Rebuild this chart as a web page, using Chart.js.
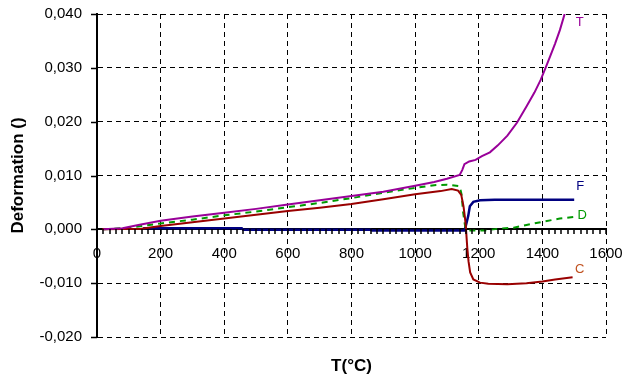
<!DOCTYPE html>
<html>
<head>
<meta charset="utf-8">
<script src="https://cdn.jsdelivr.net/npm/chart.js@4/dist/chart.umd.min.js"></script>
<style>
html,body{margin:0;padding:0;background:#fff;}
#wrap{width:624px;height:380px;}
</style>
</head>
<body>
<div id="wrap"><canvas id="c" width="624" height="380"></canvas></div>
<script>
// Series T (purple)
const tempT = [20, 80, 130, 200, 300, 400, 500, 600, 700, 800, 900, 1000, 1060, 1100, 1140, 1148, 1155, 1170, 1190, 1210, 1235, 1260, 1290, 1320, 1350, 1375, 1395, 1410, 1425, 1440, 1455, 1470];
const defT  = [0, 0.0002, 0.0008, 0.0016, 0.0024, 0.0031, 0.0038, 0.0046, 0.0054, 0.0062, 0.0070, 0.0081, 0.0088, 0.0094, 0.0101, 0.0110, 0.0121, 0.0126, 0.0129, 0.0136, 0.0143, 0.0156, 0.0174, 0.0198, 0.0228, 0.0254, 0.0278, 0.0300, 0.0322, 0.0345, 0.0370, 0.0400];
// Series C (dark red)
const tempC = [16, 140, 200, 300, 400, 500, 600, 700, 800, 900, 1000, 1080, 1115, 1135, 1145, 1152, 1157, 1160, 1164, 1168, 1173, 1183, 1204, 1230, 1290, 1350, 1400, 1440, 1495];
const defC  = [0, 0.0001, 0.0006, 0.0013, 0.0020, 0.0027, 0.0034, 0.0040, 0.0047, 0.0056, 0.0065, 0.0071, 0.0075, 0.0072, 0.0064, 0.0043, 0.0020, 0, -0.0035, -0.0060, -0.0080, -0.0093, -0.0099, -0.0101, -0.0102, -0.0100, -0.0097, -0.0093, -0.0089];
// Series D (green, dashed)
const tempD = [20, 100, 200, 300, 400, 500, 600, 700, 800, 900, 1000, 1060, 1100, 1140, 1146, 1151, 1157, 1162, 1220, 1260, 1310, 1350, 1400, 1455, 1497];
const defD  = [0, 0.0003, 0.0011, 0.0018, 0.0026, 0.0033, 0.0041, 0.0049, 0.0058, 0.0068, 0.0077, 0.0082, 0.0083, 0.0080, 0.0065, 0.0031, 0.0006, -0.0002, -0.0002, 0.0001, 0.0003, 0.0008, 0.0014, 0.0020, 0.0023];
// Series F (navy)
const tempF = [145, 455, 460, 860, 865, 1155, 1160, 1167, 1172, 1183, 1204, 1250, 1500];
const defF  = [0.0002, 0.0002, -0.0001, -0.0001, -0.0002, -0.0002, 0.0008, 0.0025, 0.0043, 0.0051, 0.0054, 0.0055, 0.0055];

const seriesNames = ['T', 'C', 'D', 'F'];
const yTicks = [-0.020, -0.010, 0.000, 0.010, 0.020, 0.030, 0.040];
const xTicksMajor = [0, 200, 400, 600, 800, 1000, 1200, 1400, 1600];

const pts = (xs, ys) => xs.map((x, i) => ({x: x, y: ys[i]}));
const FONT = "'Liberation Sans', Arial, sans-serif";
const zeroPad = s => { s.paddingLeft = 0; s.paddingRight = 0; s.paddingTop = 0; s.paddingBottom = 0; };

// tick marks drawn at the library's own scale ticks
const tickMarks = {
  id: 'tickMarks',
  afterDraw(chart, args, opts) {
    const ctx = chart.ctx, xs = chart.scales.x, ys = chart.scales.y;
    const y0 = Math.round(ys.getPixelForValue(0));
    ctx.save();
    ctx.setLineDash([]);
    ctx.strokeStyle = '#000';
    ctx.lineWidth = 1.5;
    ctx.beginPath();
    xs.ticks.forEach(t => {
      const px = Math.round(xs.getPixelForValue(t.value));
      ctx.moveTo(px, y0);
      ctx.lineTo(px, y0 + opts.xLen);
    });
    const x0 = ys.right;
    ys.ticks.forEach(t => {
      const py = Math.round(ys.getPixelForValue(t.value)) + 0.5;
      ctx.moveTo(x0, py);
      ctx.lineTo(x0 - opts.yLen, py);
    });
    ctx.stroke();
    ctx.restore();
  }
};

const endLabels = {
  id: 'endLabels',
  afterDatasetsDraw(chart, args, opts) {
    const ctx = chart.ctx;
    ctx.save();
    ctx.font = '13px ' + FONT;
    ctx.textAlign = 'center';
    ctx.textBaseline = 'middle';
    chart.data.datasets.forEach((ds, i) => {
      const last = ds.data[ds.data.length - 1];
      const px = chart.scales.x.getPixelForValue(last.x);
      const py = chart.scales.y.getPixelForValue(last.y);
      const o = opts.offsets[i];
      ctx.fillStyle = opts.colors[i];
      ctx.fillText(ds.label, px + o[0], py + o[1]);
    });
    ctx.restore();
  }
};

new Chart(document.getElementById('c'), {
  type: 'scatter',
  data: {
    datasets: [
      {label: seriesNames[0], data: pts(tempT, defT), borderColor: '#990099', borderWidth: 2},
      {label: seriesNames[1], data: pts(tempC, defC), borderColor: '#990000', borderWidth: 2},
      {label: seriesNames[2], data: pts(tempD, defD), borderColor: '#009900', borderWidth: 2, borderDash: [6, 5]},
      {label: seriesNames[3], data: pts(tempF, defF), borderColor: '#000080', borderWidth: 2.5}
    ].map(d => Object.assign(d, {showLine: true, pointRadius: 0, tension: 0, fill: false}))
  },
  options: {
    responsive: false,
    animation: false,
    layout: {padding: {left: 0, right: 18, top: 14, bottom: 0}},
    plugins: {
      legend: {display: false},
      tooltip: {enabled: false},
      tickMarks: {xLen: 5, yLen: 6},
      endLabels: {
        offsets: [[15, 8], [7, -8], [9, -2], [6, -13]],
        colors: ['#990099', '#C0501E', '#009900', '#000080']
      }
    },
    scales: {
      x: {
        type: 'linear',
        min: 0, max: 1600,
        position: {y: 0},
        ticks: {
          stepSize: 20, autoSkip: false, maxRotation: 0, padding: 16,
          color: '#000', font: {family: FONT, size: 15},
          callback: v => (xTicksMajor.includes(v) ? String(v) : '')
        },
        grid: {
          color: c => (c.tick && xTicksMajor.includes(c.tick.value) && c.tick.value !== 0 ? '#000' : 'rgba(0,0,0,0)'),
          lineWidth: 1,
          drawTicks: false,
          drawOnChartArea: true
        },
        border: {display: true, color: '#000', width: 2, dash: [5, 4]},
        afterFit: zeroPad
      },
      xb: {
        type: 'linear', position: 'bottom', min: 0, max: 1600,
        ticks: {display: false},
        grid: {display: false, drawTicks: false},
        border: {display: false},
        title: {display: true, text: 'T(°C)', color: '#000', font: {family: FONT, size: 17, weight: 'bold'}, padding: {top: 0, bottom: 3}},
        afterFit: s => { zeroPad(s); s.height = 43; }
      },
      y: {
        type: 'linear', position: 'left',
        min: -0.020, max: 0.040,
        afterBuildTicks: s => { s.ticks = yTicks.map(v => ({value: v})); },
        ticks: {
          padding: 15, color: '#000', font: {family: FONT, size: 15},
          callback: v => v.toFixed(3).replace('.', ',')
        },
        grid: {
          color: '#000', lineWidth: 1,
          drawTicks: false
        },
        border: {display: true, color: '#000', width: 2, dash: [5, 4]},
        title: {display: true, text: 'Deformation ()', color: '#000', font: {family: FONT, size: 17, weight: 'bold'}, padding: {top: 8, bottom: 0}},
        afterFit: s => { zeroPad(s); s.width = 97; }
      }
    }
  },
  plugins: [tickMarks, endLabels]
});
</script>
</body>
</html>
